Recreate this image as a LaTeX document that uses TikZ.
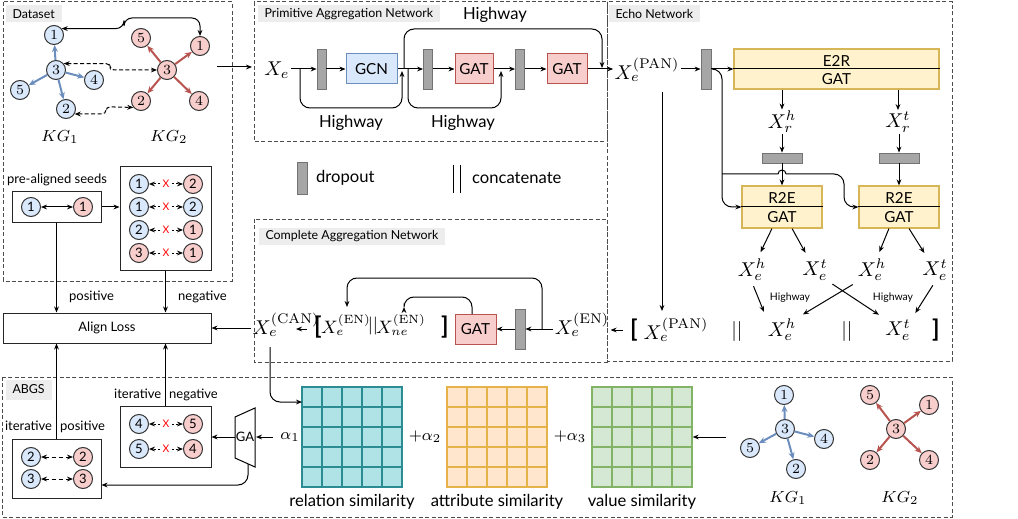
\documentclass[tikz,border=0pt]{standalone}
\usepackage[no-math]{fontspec}
\setmainfont{Lato}
\usetikzlibrary{arrows.meta}
\definecolor{kgblue}{HTML}{DAE8FC}
\definecolor{kgbluee}{HTML}{6C8EBF}
\definecolor{kgred}{HTML}{F8CECC}
\definecolor{kgrede}{HTML}{B85450}
\definecolor{yel}{HTML}{FFF2CC}
\definecolor{yele}{HTML}{D6B656}
\definecolor{relf}{HTML}{B0E3E6}
\definecolor{rele}{HTML}{2C8C93}
\definecolor{attf}{HTML}{FFE6CC}
\definecolor{atte}{HTML}{E6B34A}
\definecolor{valf}{HTML}{D5E8D4}
\definecolor{vale}{HTML}{82B366}
\newcommand\FBig{\fontsize{8.3}{10}\selectfont}
\newcommand\FMid{\fontsize{6.5}{8}\selectfont}
\newcommand\FTtl{\fontsize{6.2}{7}\selectfont}
\newcommand\FSml{\fontsize{5.2}{6}\selectfont}
\newcommand\FBlk{\fontsize{7.6}{9}\selectfont}
\newcommand\FDig{\fontsize{7}{8}\selectfont}
\newcommand\FMath{\fontsize{10}{12}\selectfont}
\newcommand\FMathS{\fontsize{8.6}{10}\selectfont}
\newcommand\FKG{\fontsize{8}{9}\selectfont}
\newcommand\FBr{\fontsize{12}{14}\selectfont\bfseries}
\tikzset{
  >={Stealth[length=3pt,width=2.4pt]},
  conn/.style={line width=0.5pt},
  dbox/.style={draw=black!70, dash pattern=on 2pt off 1.2pt, line width=0.5pt},
  ttl/.style={fill=black!7, anchor=north west, font=\FTtl, inner xsep=3.5pt, inner ysep=0pt, minimum height=8.5pt},
  ent/.style={circle, draw=black!80, line width=0.5pt, minimum size=9.5pt, inner sep=0pt, font=\FDig},
  ea/.style={ent, fill=kgblue},
  eb/.style={ent, fill=kgred},
  kga/.style={draw=kgbluee, line width=1pt, -{Stealth[length=3.5pt,width=3pt]}},
  kgb/.style={draw=kgrede, line width=1pt, -{Stealth[length=3.5pt,width=3pt]}},
  drop/.style={draw=black!55, fill=black!35, line width=0.4pt, inner sep=0pt},
  blk/.style={draw, line width=0.5pt, minimum height=15pt, inner sep=0pt, font=\FBlk},
  gcnb/.style={blk, fill=kgblue, draw=kgbluee},
  gatb/.style={blk, fill=kgred, draw=kgrede},
  yb/.style={fill=yel, draw=yele, line width=0.6pt, inner sep=0pt},
  mth/.style={inner sep=0.5pt, font=\FMath},
  mths/.style={inner sep=0.5pt, font=\FMathS},
  kgl/.style={font=\FKG},
  xmark/.style={text=red, font=\FSml, inner sep=1pt},
  dotl/.style={line width=0.5pt, dash pattern=on 1pt off 1pt},
  sqbox/.style={draw=black!85, line width=0.5pt, inner sep=0pt},
}
\begin{document}
\begin{tikzpicture}[x=0.5pt,y=-0.5pt, line width=0.5pt]
\useasboundingbox (0,0) rectangle (1018,519);

% ---------- dashed frames ----------
\draw[dbox] (3,2) rectangle (232,281);
\draw[dbox] (254,2) rectangle (607,142);
\draw[dbox] (607,2) rectangle (952,361);
\draw[dbox] (254,219) rectangle (607,362);
\draw[dbox] (2,377) rectangle (952,517);

\node[ttl] (tds) at (5,5) {Dataset};
\node[ttl] (tpan) at (257,5) {Primitive Aggregation Network};
\node[ttl] (techo) at (608,5) {Echo Network};
\node[ttl] (tcan) at (258,227) {Complete Aggregation Network};
\node[ttl, minimum height=10pt] (tabgs) at (5,379) {ABGS};

% ---------- Dataset KGs ----------
\node[ea] (a1) at (54,35) {$1$};
\node[ea] (a3) at (56,70) {$3$};
\node[ea] (a4) at (94,80) {$4$};
\node[ea] (a5) at (20,90) {$5$};
\node[ea] (a2) at (66,109) {$2$};
\draw[kga] (a3) -- (a1);
\draw[kga] (a3) -- (a4);
\draw[kga] (a3) -- (a5);
\draw[kga] (a3) -- (a2);
\node[eb] (b5) at (141,38) {$5$};
\node[eb] (b1) at (200,46) {$1$};
\node[eb] (b3) at (167,70) {$3$};
\node[eb] (b2) at (141,101) {$2$};
\node[eb] (b4) at (199,101) {$4$};
\draw[kgb] (b3) -- (b5);
\draw[kgb] (b3) -- (b1);
\draw[kgb] (b3) -- (b2);
\draw[kgb] (b3) -- (b4);
\node[kgl] (kg1a) at (60,137) {$KG_1$};
\node[kgl] (kg2a) at (169,137) {$KG_2$};
\draw[<->, rounded corners=4pt] (a1.40) -| (124,18) -| (b1.north);
\draw[<->, dash pattern=on 2pt off 1.2pt, rounded corners=2pt] (a3.40) -| (110,70) -- (b3.west);
\draw[<->, dash pattern=on 2pt off 1.2pt, rounded corners=2pt] (a2.-30) -| (106,106.8) -- (b2.-140);

\coordinate (dsout) at (217,67);
\coordinate (panin) at (252,67);
\draw[->] (dsout) -- (panin);

% ---------- seeds ----------
\node[font=\FMid] (lseed) at (57,180) {pre-aligned seeds};
\node[sqbox, minimum width=44.5pt, minimum height=15pt] (seed) at (56.5,207) {};
\node[ea, font=\FMid] (s1) at (31,207) {1};
\node[eb, font=\FMid] (s2) at (83,207) {1};
\draw[<->] (s1) -- (s2);

\node[sqbox, minimum width=45.5pt, minimum height=51.5pt] (neg) at (165.5,218.5) {};
\draw[->] (seed.east) -- (seed.east -| neg.west);
\foreach \y/\ca/\na/\cb/\nb [count=\k] in {184/ea/1/eb/2, 207/ea/1/ea/2, 230/ea/2/eb/1, 253/eb/3/eb/1}{
  \node[\ca, font=\FMid] (nl\k) at (139,\y) {\na};
  \node[\cb, font=\FMid] (nr\k) at (193,\y) {\nb};
  \node[xmark] (nx\k) at (166,\y) {X};
  \draw[->, dotl] (nx\k) -- (nl\k);
  \draw[->, dotl] (nx\k) -- (nr\k);
}

\node[draw=black!85, minimum width=104pt, minimum height=15pt, font=\FMid] (align) at (107,328) {Align Loss};
\draw[->] (seed.south) -- (seed.south |- align.north);
\draw[->] (neg.south) -- (neg.south |- align.north);
\node[font=\FMid, anchor=west] (lpos) at (62,297) {positive};
\node[font=\FMid, anchor=west] (lneg) at (171,297) {negative};

% ---------- PAN ----------
\node[mth] (xe) at (277,70) {$X_e$};
\node[drop, minimum width=4.5pt, minimum height=20pt] (p1) at (321.5,69) {};
\node[gcnb, minimum width=25.5pt] (gcn) at (371.5,69) {GCN};
\node[drop, minimum width=4.5pt, minimum height=20pt] (p2) at (428,69) {};
\node[gatb, minimum width=19pt] (gat1) at (474,69) {GAT};
\node[drop, minimum width=4.5pt, minimum height=20pt] (p3) at (520,69) {};
\node[gatb, minimum width=20pt] (gat2) at (567,69) {GAT};
\draw[->] (xe.east |- p1) -- (p1);
\draw[->] (p1) -- (gcn);
\draw[->] (gcn) -- (p2);
\draw[->] (p2) -- (gat1);
\draw[->] (gat1) -- (p3);
\draw[->] (p3) -- (gat2);
\coordinate (hw1s) at (300,69);
\coordinate (hw1e) at (402,71);
\coordinate (hw2s) at (408,69);
\coordinate (hw2e) at (501,71);
\coordinate (hw3s) at (404,69);
\coordinate (hw3e) at (602,68);
\draw[->, rounded corners=5pt] (hw1s) -- (300,108) -- (402,108) -- (hw1e);
\draw[->, rounded corners=5pt] (hw2s) -- (408,108) -- (501,108) -- (hw2e);
\draw[->, rounded corners=5pt] (hw3s) -- (404,29) -- (602,29) -- (hw3e);
\node[font=\FBig] (lhw1) at (351,123) {Highway};
\node[font=\FBig] (lhw2) at (463,123) {Highway};
\node[font=\FBig] (lhw3) at (495,15) {Highway};

% legend
\node[drop, minimum width=5pt, minimum height=16pt] (lgd) at (302,178) {};
\node[font=\FBig, anchor=west] (lgdt) at (309,178) {dropout};
\coordinate (cc1a) at (453,165); \coordinate (cc1b) at (453,193);
\coordinate (cc2a) at (460,165); \coordinate (cc2b) at (460,193);
\draw (cc1a) -- (cc1b);
\draw (cc2a) -- (cc2b);
\node[font=\FBig, anchor=west] (lcct) at (465,178) {concatenate};

% ---------- Echo network ----------
\node[mth] (xpan) at (647,70) {$X_e^{(\mathrm{PAN})}$};
\draw[->] (gat2) -- (xpan.west |- gat2);
\node[drop, minimum width=5pt, minimum height=20pt] (q0) at (706,69) {};
\draw[->] (xpan.east |- q0) -- (q0);
\node[yb, minimum width=102.5pt, minimum height=20pt] (e2r) at (836.5,69) {};
\draw[->] (q0) -- (e2r.west);
\draw (e2r.west) -- (e2r.east);
\node[font=\FBlk] (e2rt) at (836.5,61) {E2R};
\node[font=\FBlk] (e2rb) at (836.5,79) {GAT};

\node[mth] (xrh) at (782,122) {$X_r^h$};
\node[mth] (xrt) at (898,122) {$X_r^t$};
\draw[->] (e2r.south -| xrh) -- (xrh);
\draw[->] (e2r.south -| xrt) -- (xrt);
\node[drop, minimum width=20pt, minimum height=5pt] (q1) at (782,158) {};
\node[drop, minimum width=20pt, minimum height=5pt] (q2) at (899,158) {};
\draw[->] (xrh) -- (q1);
\draw[->] (xrt.south -| q2) -- (q2);

\node[yb, minimum width=40pt, minimum height=21pt] (r1) at (782,207) {};
\node[yb, minimum width=40pt, minimum height=21pt] (r2) at (899,207) {};
\node[font=\FBlk] (r1t) at (782,198) {R2E};
\node[font=\FBlk] (r1b) at (782,217) {GAT};
\node[font=\FBlk] (r2t) at (899,198) {R2E};
\node[font=\FBlk] (r2b) at (899,217) {GAT};
\draw[->] (q1) -- (r1);
\draw[->] (q2) -- (r2);

\coordinate (eb) at (714,69);
\coordinate (hb) at (722,174);
\draw[->, rounded corners=5pt] (eb) -| (722,207) -- (r1.west);
\draw (r1.west) -- (r1.east);
\draw (hb) -- (778,174) arc[start angle=180, end angle=0, radius=2pt];
\draw[->, rounded corners=5pt] (786,174) -- (844,174) -- (844,207) -- (r2.west);
\draw (r2.west) -- (r2.east);

\node[mth] (h1) at (752,270) {$X_e^h$};
\node[mth] (t1) at (815,270) {$X_e^t$};
\node[mth] (h2) at (872,270) {$X_e^h$};
\node[mth] (t2) at (935,270) {$X_e^t$};
\draw[->, shorten >=3pt] (r1.-115) -- (h1);
\draw[->, shorten >=3pt] (r1.-65) -- (t1);
\draw[->, shorten >=3pt] (r2.-115) -- (h2);
\draw[->, shorten >=3pt] (r2.-65) -- (t2);

\node[font=\FBr] (lbr) at (634,330) {[};
\node[mth] (xpan2) at (676,330) {$X_e^{(\mathrm{PAN})}$};
\node[mth] (cat1) at (737,331) {$||$};
\node[mth] (bh) at (782,330) {$X_e^h$};
\node[mth] (cat2) at (847,331) {$||$};
\node[mth] (bt) at (898,330) {$X_e^t$};
\node[font=\FBr] (rbr) at (936,330) {]};

\draw[->, shorten <=2pt, shorten >=3pt] (h1.south) -- (bh.north west);
\draw[->, shorten <=2pt, shorten >=3pt] (h2.south west) -- (bh.north east);
\draw[->, shorten <=2pt, shorten >=3pt] (t1.south east) -- (bt.north west);
\draw[->, shorten <=2pt, shorten >=3pt] (t2.south) -- (bt.north east);
\node[font=\FSml] (lhwa) at (790,298) {Highway};
\node[font=\FSml] (lhwb) at (893,298) {Highway};

\coordinate (vt) at (662,92);
\coordinate (vb) at (662,311);
\draw[->] (vt) -- (vb);

% ---------- CAN ----------
\node[mth] (xcan) at (286,325) {$X_e^{(\mathrm{CAN})}$};
\node[font=\FBr] (lb2) at (318,327) {[};
\node[mths] (xen1) at (346,325) {$X_e^{(\mathrm{EN})}$};
\node[mths] (cat3) at (373,326) {$||$};
\node[mths] (xne) at (401,325) {$X_{ne}^{(\mathrm{EN})}$};
\node[font=\FBr] (rb2) at (445,327) {]};
\node[gatb, minimum width=20.5pt] (gat3) at (475.5,329) {GAT};
\node[drop, minimum width=5pt, minimum height=20pt] (p4) at (520,329) {};
\node[mth] (xen) at (582,325) {$X_e^{(\mathrm{EN})}$};
\draw[->] (p4.east -| xen.west) -- (p4.east);
\draw[->] (p4) -- (gat3);
\coordinate (xcanr) at (296,329);
\draw[->] (lb2.west |- xcanr) -- (xcanr);
\coordinate (xnetop) at (404,307);
\coordinate (xentop) at (347,307);
\coordinate (cbr) at (542,329);
\coordinate (gtop) at (472,314);
\draw[->, rounded corners=5pt] (gtop) -- (472,297) -- (404,297) -- (xnetop);
\draw[->, rounded corners=5pt] (cbr) -- (542,278) -- (347,278) -- (xentop);
\draw[->] (lbr.west) -- (lbr.west -| xen.east);
\draw[->] (align.east -| xcan.west) -- (align.east);

% ---------- ABGS ----------
\node[font=\FMid] (lipos) at (55,427) {iterative\hspace{4pt}positive};
\node[sqbox, minimum width=44.5pt, minimum height=29.5pt] (ipos) at (56.5,468.5) {};
\node[ea, font=\FMid] (ip1) at (31,457) {2};
\node[eb, font=\FMid] (ip2) at (83,457) {2};
\node[ea, font=\FMid] (ip3) at (31,479) {3};
\node[eb, font=\FMid] (ip4) at (83,479) {3};
\draw[<->, dash pattern=on 2pt off 1.5pt] (ip1) -- (ip2);
\draw[<->, dash pattern=on 2pt off 1.5pt] (ip3) -- (ip4);
\draw[->] (ipos.north) -- (ipos.north |- align.south);

\node[font=\FMid] (lineg) at (166,395) {iterative\hspace{4pt}negative};
\node[sqbox, minimum width=45.5pt, minimum height=30.5pt] (ineg) at (165.5,436.5) {};
\node[ea, font=\FMid] (in1) at (139,424) {4};
\node[eb, font=\FMid] (in2) at (193,424) {5};
\node[ea, font=\FMid] (in3) at (139,449) {5};
\node[eb, font=\FMid] (in4) at (193,449) {4};
\node[xmark] (inx1) at (166,424) {X};
\node[xmark] (inx2) at (166,449) {X};
\draw[->, dotl] (inx1) -- (in1);
\draw[->, dotl] (inx1) -- (in2);
\draw[->, dotl] (inx2) -- (in3);
\draw[->, dotl] (inx2) -- (in4);
\draw[->] (ineg.north) -- (ineg.north |- align.south);

\draw (235,417) -- (255,408) -- (255,467) -- (235,458) -- cycle;
\node[font=\FMid] (ga) at (245,437) {GA};
\coordinate (gaL) at (235,437);
\coordinate (gaR) at (256,437);
\coordinate (gaB) at (248,464);
\coordinate (c485) at (0,485);
\draw[->] (gaL) -- (ineg.east |- gaL);
\node[font=\FKG] (al1) at (290,437) {$\alpha_1$};
\draw[->] (al1.west) -- (gaR);
\draw[->, rounded corners=5pt] (gaB) |- (ipos.east |- c485);

% similarity grids
\node[draw=rele, fill=relf, line width=0.7pt, minimum size=50pt, inner sep=0pt] (relg) at (352,437) {};
\node[draw=atte, fill=attf, line width=0.7pt, minimum size=50pt, inner sep=0pt] (attg) at (497,437) {};
\node[draw=vale, fill=valf, line width=0.7pt, minimum size=50pt, inner sep=0pt] (valg) at (642,437) {};
\foreach \cx/\cl in {302/rele, 447/atte, 592/vale}{
  \foreach \i in {1,...,4}{
    \draw[draw=\cl, line width=0.7pt] (\cx+20*\i,387) -- (\cx+20*\i,487);
    \draw[draw=\cl, line width=0.7pt] (\cx,387+20*\i) -- (\cx+100,387+20*\i);
  }
}
\node[font=\FBig] (lrel) at (352,502) {relation similarity};
\node[font=\FBig] (latt) at (497,502) {attribute similarity};
\node[font=\FBig] (lval) at (642,502) {value similarity};
\node[font=\FKG] (al2) at (425,437) {$+\alpha_2$};
\node[font=\FKG] (al3) at (570,437) {$+\alpha_3$};

\coordinate (cdn) at (270,347);
\coordinate (rg402) at (302,402);
\draw[->, rounded corners=5pt] (cdn) |- (rg402);

% ABGS KGs
\node[ea] (c1) at (784,395) {$1$};
\node[ea] (c3) at (785,429) {$3$};
\node[ea] (c4) at (824,439) {$4$};
\node[ea] (c5) at (750,448) {$5$};
\node[ea] (c2) at (796,469) {$2$};
\draw[kga] (c3) -- (c1);
\draw[kga] (c3) -- (c4);
\draw[kga] (c3) -- (c5);
\draw[kga] (c3) -- (c2);
\node[eb] (d5) at (870,395) {$5$};
\node[eb] (d1) at (929,405) {$1$};
\node[eb] (d3) at (896,429) {$3$};
\node[eb] (d2) at (870,460) {$2$};
\node[eb] (d4) at (929,460) {$4$};
\draw[kgb] (d3) -- (d5);
\draw[kgb] (d3) -- (d1);
\draw[kgb] (d3) -- (d2);
\draw[kgb] (d3) -- (d4);
\node[kgl] (kg1b) at (788,498) {$KG_1$};
\node[kgl] (kg2b) at (900,498) {$KG_2$};
\coordinate (kgsrc) at (726,437);
\draw[->] (kgsrc) -- (valg.east);
\end{tikzpicture}
\end{document}
